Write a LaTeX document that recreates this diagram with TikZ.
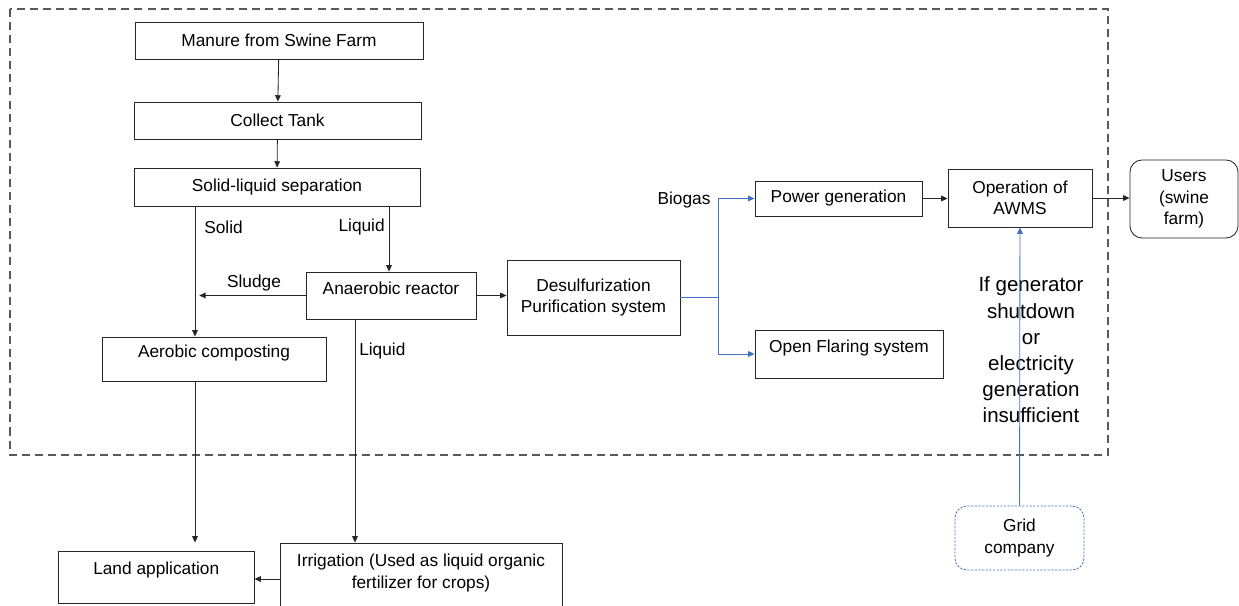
\documentclass[tikz,border=0pt]{standalone}
\usepackage{fontspec}
\setmainfont{Liberation Sans}
\usetikzlibrary{arrows.meta}
\definecolor{gasblue}{RGB}{68,114,196}
\newcommand{\liftup}[2]{\raisebox{#1}[\height][\depth]{#2}}
\tikzset{
  box/.style={draw=black!85,line width=0.6pt,inner sep=2pt,align=center,
    font=\fontsize{12.3}{15.3}\selectfont},
  roundbox/.style={box,rounded corners=0.3cm},
  lbl/.style={font=\fontsize{12.3}{15.3}\selectfont,inner sep=0pt},
  flow/.style={draw=black!85,line width=0.6pt,-{Triangle[length=4.5pt,width=4pt]}},
  gas/.style={flow,draw=gasblue}
}
\begin{document}
\begin{tikzpicture}[x=0.025cm,y=-0.025cm]
\useasboundingbox (0,0) rectangle (1239,606);
\draw[black!65,line width=0.9pt,dash pattern=on 5.7pt off 3.6pt] (10,9) rectangle (1108,455);

% left column
\node[box,minimum width=7.2cm,minimum height=0.925cm] (manure) at (279,40.5) {Manure from Swine Farm};
\node[box,minimum width=7.175cm,minimum height=0.925cm] (collect) at (277.5,120.5) {Collect Tank};
\node[box,minimum width=7.15cm,minimum height=0.95cm] (sep) at (277,187) {Solid-liquid separation};
\node[box,minimum width=4.25cm,minimum height=1.175cm] (anaerobic) at (391,295.5) {\liftup{4.8pt}{Anaerobic reactor}};
\node[box,minimum width=5.6cm,minimum height=1.1cm] (aerobic) at (214,359) {\liftup{4.6pt}{Aerobic composting}};
\node[box,minimum width=4.325cm,minimum height=1.875cm] (desulf) at (593.5,297.5) {Desulfurization\\Purification system};
\node[box,minimum width=4.89cm,minimum height=1.3cm] (land) at (156.25,577) {\liftup{5.3pt}{Land application}};
\node[box,minimum width=7.05cm,minimum height=1.8cm] (irrigation) at (421,579)
  {\liftup{4pt}{\begin{tabular}{@{}c@{}}Irrigation (Used as liquid organic\\fertilizer for crops)\end{tabular}}};

% right part
\node[box,minimum width=4.175cm,minimum height=0.875cm] (power) at (838.5,198.5) {Power generation};
\node[box,minimum width=4.7cm,minimum height=1.2cm] (flare) at (849,354) {\liftup{4.6pt}{Open Flaring system}};
\node[box,minimum width=3.6cm,minimum height=1.45cm] (operation) at (1020,198) {Operation of\\AWMS};
\node[roundbox,minimum width=2.7cm,minimum height=1.95cm] (users) at (1184,199) {Users\\(swine\\farm)};
\node[roundbox,draw=gasblue,dash pattern=on 1.6pt off 1pt,minimum width=3.225cm,minimum height=1.6cm] (grid) at (1019.5,538) {Grid\\company};

\node[lbl,anchor=west] (solidtxt) at (204,227) {Solid};
\node[lbl,anchor=east] (liquidtxt) at (385,227) {Liquid};
\node[lbl] (sludgetxt) at (254,283) {Sludge};
\node[lbl,anchor=west] (liquidtxt2) at (359,351) {Liquid};
\node[lbl] (biogastxt) at (684,200) {Biogas};
\node[lbl,align=center,font=\fontsize{14.6}{18.6}\selectfont] (gridtxt) at (1031,350)
  {If generator\\shutdown\\or\\electricity\\generation\\insufficient};

\coordinate (solid) at (195,206);
\coordinate (liq) at (389,206);
\coordinate (liq2) at (355,319);
\coordinate (split) at (718,297.5);

\draw[flow] (manure) -- (collect);
\draw[flow] (collect) -- (sep);
\draw[flow] (solid) -- (solid |- aerobic.north);
\draw[flow] (liq) -- (liq |- anaerobic.north);
\draw[flow,shorten >=3pt] (anaerobic.west) -- (solid |- anaerobic.west);
\draw[flow] (anaerobic.east) -- (anaerobic.east -| desulf.west);
\draw[flow] (liq2) -- (liq2 |- irrigation.north);
\draw[flow,shorten >=5.7pt] (aerobic.south -| solid) -- (land.north -| solid);
\draw[flow] (irrigation.west) -- (land.east |- irrigation.west);

\draw[gas,-] (desulf.east) -- (split);
\draw[gas] (split) |- (power.west);
\draw[gas] (split) |- (flare.west);
\draw[flow] (power.east) -- (power.east -| operation.west);
\draw[flow] (operation.east) -- (operation.east -| users.west);
\draw[gas] (grid) -- (operation);
\end{tikzpicture}
\end{document}
